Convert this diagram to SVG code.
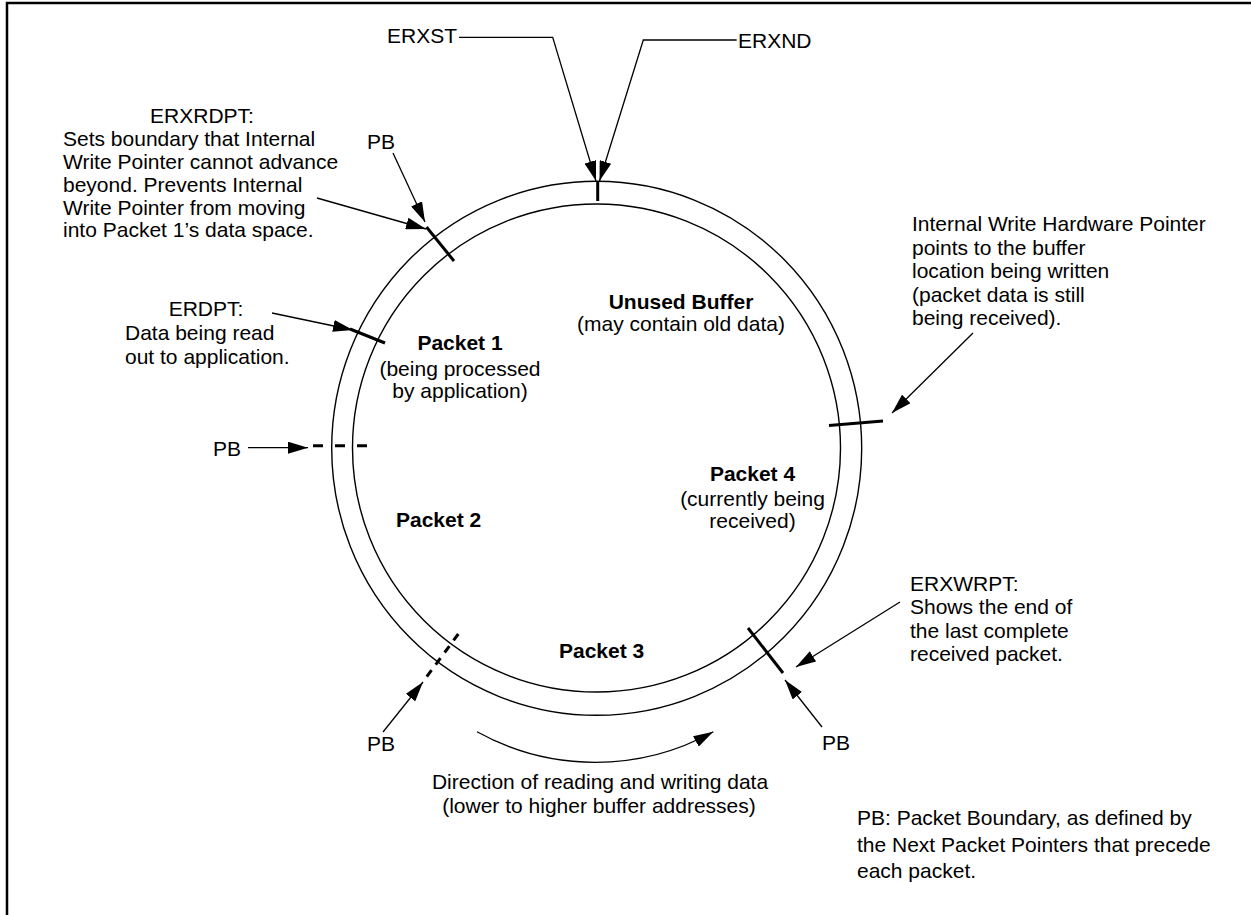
<svg xmlns="http://www.w3.org/2000/svg" width="1251" height="915" viewBox="0 0 1251 915">
<style>
text{font-family:"Liberation Sans",Arial,sans-serif;font-size:21px;fill:#000}
.b{font-weight:bold}
.m{text-anchor:middle}
.ring{fill:none;stroke:#000;stroke-width:1.4}
.tick{stroke:#000;stroke-width:3;fill:none}
.conn{stroke:#000;stroke-width:1.3;fill:none;marker-end:url(#ah)}
</style>
<defs>
<marker id="ah" markerUnits="userSpaceOnUse" markerWidth="20" markerHeight="12" viewBox="0 -6 20 12" refX="20" refY="0" orient="auto">
<path d="M0,-6 L20,0 L0,6 Z" fill="#000"/>
</marker>
</defs>
<rect width="1251" height="915" fill="#fff"/>
<path d="M7 915 V3 H1251" fill="none" stroke="#000" stroke-width="2.5"/>

<g id="buffer-ring">
<ellipse class="ring" cx="596.7" cy="448.3" rx="265" ry="267"/>
<circle class="ring" cx="596.5" cy="448" r="244"/>
</g>

<g id="ticks">
<line class="tick" x1="597.7" y1="181" x2="597.7" y2="201"/>
<line class="tick" x1="426.5" y1="227" x2="454" y2="261"/>
<line class="tick" x1="350" y1="329" x2="385" y2="343"/>
<line class="tick" x1="313" y1="445.7" x2="367" y2="445.7" stroke-dasharray="10 12"/>
<line class="tick" x1="829" y1="425.5" x2="883" y2="421"/>
<line class="tick" x1="458.3" y1="634" x2="426.7" y2="676.7" stroke-dasharray="8 7"/>
<line class="tick" x1="748" y1="628" x2="783" y2="673"/>
</g>

<g id="connectors">
<polyline class="conn" points="459,37.3 552.7,37.3 596,181"/>
<polyline class="conn" points="736.7,40 643.3,40 599.5,181"/>
<line class="conn" x1="393" y1="153" x2="425" y2="222"/>
<line class="conn" x1="317" y1="198" x2="426" y2="229"/>
<line class="conn" x1="272" y1="313" x2="353" y2="330"/>
<line class="conn" x1="248" y1="447.7" x2="308" y2="447.7"/>
<line class="conn" x1="973" y1="333" x2="892" y2="413"/>
<line class="conn" x1="900" y1="602" x2="796" y2="667"/>
<line class="conn" x1="383" y1="732" x2="423" y2="682"/>
<line class="conn" x1="822" y1="727" x2="785" y2="680"/>
<path class="conn" d="M477 731.7 A243.5 243.5 0 0 0 713.3 731.7"/>
</g>

<g id="erxst"><text x="387" y="43">ERXST</text></g>
<g id="erxnd"><text x="738" y="47.5">ERXND</text></g>

<g id="erxrdpt">
<text class="m" x="202" y="122.5">ERXRDPT:</text>
<text x="63" y="145.5">Sets boundary that Internal</text>
<text x="63" y="168.5">Write Pointer cannot advance</text>
<text x="63" y="191.5">beyond. Prevents Internal</text>
<text x="63" y="214.5">Write Pointer from moving</text>
<text x="63" y="237">into Packet 1’s data space.</text>
</g>

<g id="pb-top"><text x="367" y="149">PB</text></g>

<g id="erdpt">
<text class="m" x="206" y="315.5">ERDPT:</text>
<text x="125" y="339.5">Data being read</text>
<text x="125" y="363.5">out to application.</text>
</g>

<g id="iwhp">
<text x="912" y="231">Internal Write Hardware Pointer</text>
<text x="912" y="254.5">points to the buffer</text>
<text x="912" y="278">location being written</text>
<text x="912" y="301.5">(packet data is still</text>
<text x="912" y="325">being received).</text>
</g>

<g id="unused-buffer">
<text class="m b" x="681" y="308.5">Unused Buffer</text>
<text class="m" x="681" y="330.5">(may contain old data)</text>
</g>

<g id="packet1">
<text class="m b" x="460" y="350">Packet 1</text>
<text class="m" x="460" y="375.5">(being processed</text>
<text class="m" x="460" y="397.5">by application)</text>
</g>

<g id="pb-left"><text x="213" y="456">PB</text></g>

<g id="packet4">
<text class="m b" x="752.5" y="480.5">Packet 4</text>
<text class="m" x="752.5" y="505.5">(currently being</text>
<text class="m" x="752.5" y="527.5">received)</text>
</g>

<g id="packet2"><text class="b" x="396" y="526.5">Packet 2</text></g>
<g id="packet3"><text class="b" x="559" y="658">Packet 3</text></g>

<g id="erxwrpt">
<text x="910" y="591">ERXWRPT:</text>
<text x="910" y="614">Shows the end of</text>
<text x="910" y="638">the last complete</text>
<text x="910" y="661">received packet.</text>
</g>

<g id="pb-bottom-left"><text x="367" y="751">PB</text></g>
<g id="pb-bottom-right"><text x="822" y="750">PB</text></g>

<g id="direction">
<text class="m" x="600" y="788.5">Direction of reading and writing data</text>
<text class="m" x="599" y="812.5">(lower to higher buffer addresses)</text>
</g>

<g id="legend">
<text x="857" y="825">PB: Packet Boundary, as defined by</text>
<text x="857" y="851.5">the Next Packet Pointers that precede</text>
<text x="857" y="878">each packet.</text>
</g>
</svg>
